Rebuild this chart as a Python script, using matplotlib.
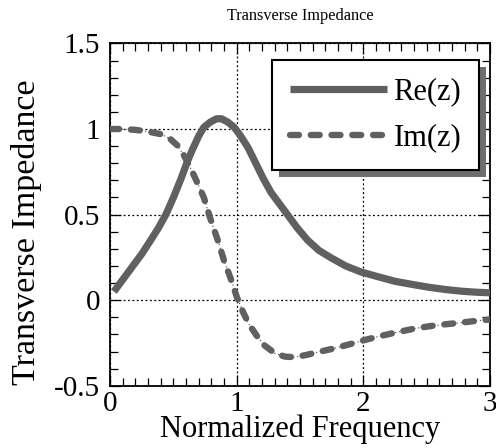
import matplotlib
matplotlib.use('Agg')
import matplotlib.pyplot as plt
from matplotlib.patches import Rectangle
from matplotlib.transforms import IdentityTransform
from matplotlib.ticker import MultipleLocator

plt.rcParams['font.family'] = ['Liberation Serif', 'DejaVu Serif']
plt.rcParams['axes.unicode_minus'] = False

# Real part of the transverse impedance
freq_re = [0.03, 0.10, 0.18, 0.25, 0.32, 0.38, 0.44, 0.50, 0.56, 0.61, 0.65, 0.70,
           0.74, 0.79, 0.84, 0.88, 0.93, 0.98, 1.03, 1.09, 1.15, 1.21, 1.27, 1.33,
           1.40, 1.48, 1.56, 1.65, 1.75, 1.86, 1.98, 2.10, 2.25, 2.40, 2.52, 2.65,
           2.78, 2.90, 3.0]
z_re = [0.05, 0.12, 0.20, 0.27, 0.35, 0.42, 0.50, 0.60, 0.71, 0.81, 0.88, 0.96,
        1.01, 1.04, 1.06, 1.06, 1.04, 1.01, 0.96, 0.89, 0.80, 0.71, 0.63, 0.57,
        0.50, 0.42, 0.35, 0.29, 0.245, 0.20, 0.165, 0.14, 0.11, 0.09, 0.075, 0.062,
        0.052, 0.046, 0.043]

# Imaginary part of the transverse impedance
freq_im = [0.0, 0.10, 0.20, 0.30, 0.40, 0.47, 0.53, 0.58, 0.63, 0.68, 0.74, 0.79,
           0.85, 0.90, 0.95, 1.00, 1.05, 1.10, 1.16, 1.22, 1.30, 1.38, 1.46, 1.55,
           1.65, 1.75, 1.88, 2.00, 2.12, 2.25, 2.41, 2.57, 2.75, 2.90, 3.0]
z_im = [1.0, 1.0, 0.995, 0.985, 0.97, 0.945, 0.905, 0.85, 0.78, 0.70, 0.60, 0.48,
        0.35, 0.23, 0.13, 0.02, -0.07, -0.145, -0.21, -0.265, -0.31, -0.33, -0.333,
        -0.32, -0.302, -0.285, -0.26, -0.235, -0.212, -0.19, -0.165, -0.147, -0.133,
        -0.12, -0.113]

x_ticks = [0, 1, 2, 3]
y_ticks = [-0.5, 0, 0.5, 1, 1.5]
y_tick_labels = ['-0.5', '0', '0.5', '1', '1.5']

fig = plt.figure(figsize=(4.96, 4.48), dpi=100)
ax = fig.add_axes([0.222, 0.139, 0.766, 0.764])

curve = '#606060'
ax.plot(freq_re, z_re, color=curve, lw=5.2, solid_capstyle='butt',
        solid_joinstyle='round', label='Re(z)', zorder=3)
# faint dotted trace under the dashes
ax.plot(freq_im, z_im, color='#444444', lw=0.8, ls=(0, (1, 2.5)), zorder=2.5)
ax.plot(freq_im, z_im, color=curve, lw=4.6, ls=(0, (1.4, 1.85)),
        dash_capstyle='round', label='Im(z)', zorder=3)

ax.set_xlim(0, 3)
ax.set_ylim(-0.5, 1.5)
ax.set_xticks(x_ticks)
ax.set_yticks(y_ticks)
ax.set_yticklabels(y_tick_labels)
ax.xaxis.set_minor_locator(MultipleLocator(0.1))
ax.yaxis.set_minor_locator(MultipleLocator(0.1))
ax.tick_params(which='both', direction='in', top=True, right=True,
               labelsize=21, color='black', width=0.9)
ax.tick_params(which='major', length=8)
ax.tick_params(which='minor', length=5.5)
ax.tick_params(axis='x', pad=3.5)
ax.tick_params(axis='y', pad=7)
ax.grid(True, which='major', color='black', lw=0.9, ls=(0, (1.5, 2)))

for s in ax.spines.values():
    s.set_linewidth(1.3)

ax.set_title('Transverse Impedance', fontsize=11.7, pad=17)
ax.set_xlabel('Normalized Frequency', fontsize=22)
ax.set_ylabel('Transverse Impedance', fontsize=24.5)
ax.yaxis.set_label_coords(-0.178, 0.449)
ax.xaxis.set_label_coords(0.5, -0.083)

leg = ax.legend(loc='upper right', bbox_to_anchor=(0.971, 0.952), borderaxespad=0,
                fontsize=22, handlelength=3.17, handletextpad=0.23, labelspacing=0.56,
                borderpad=0.58, fancybox=False, framealpha=1, edgecolor='black')
leg.get_frame().set_linewidth(1.5)
leg.set_zorder(6)

# heavy drop shadow behind the legend frame
fig.canvas.draw()
bb = leg.get_frame().get_window_extent()
ax.add_artist(Rectangle((bb.x0 + 7, bb.y0 - 7), bb.width, bb.height,
                        transform=IdentityTransform(), facecolor='#6e6e6e',
                        edgecolor='none', zorder=5.5, clip_on=False))

fig.savefig('out.png', dpi=100)
